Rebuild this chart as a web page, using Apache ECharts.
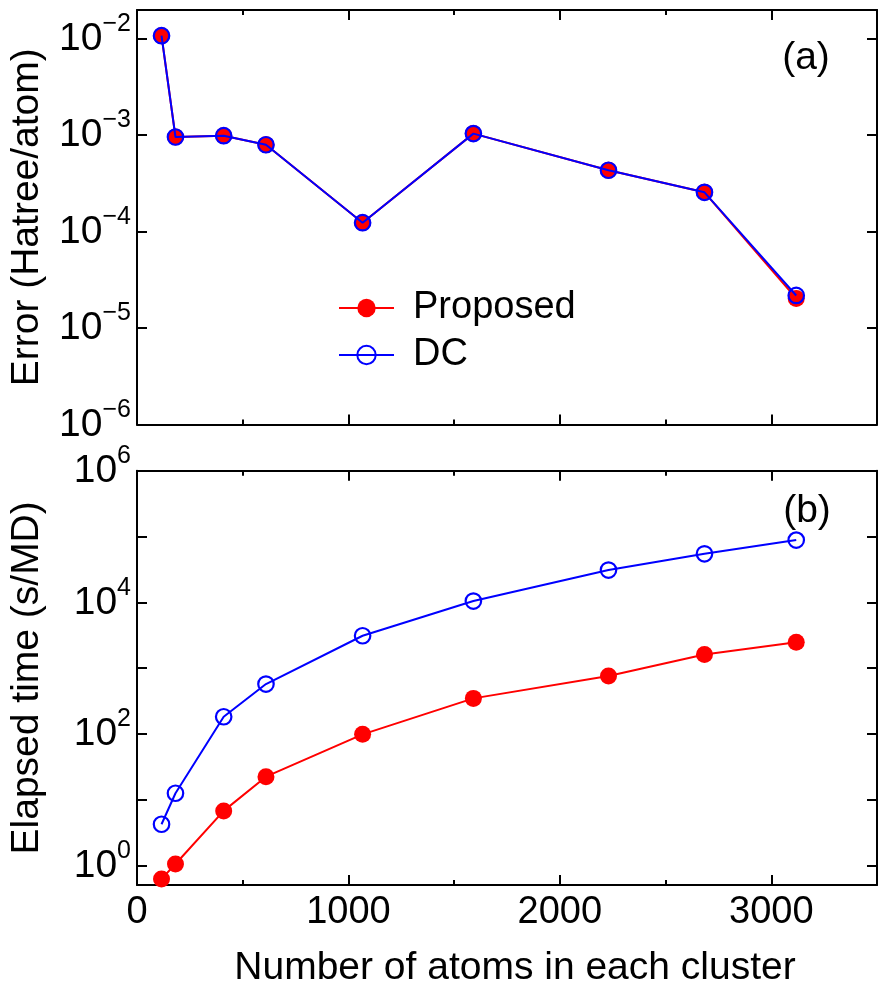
<!DOCTYPE html>
<html><head><meta charset="utf-8">
<script src="https://cdn.jsdelivr.net/npm/echarts@6/dist/echarts.min.js"></script>
<style>html,body{margin:0;padding:0;background:#fff}#c{width:886px;height:1003px}</style>
</head><body><div id="c"></div>
<script>
// ---- data ----
const atoms = [116, 182, 410, 610, 1067, 1591, 2230, 2684, 3118];
const errorProposed = [1.064e-2, 9.5e-4, 9.8e-4, 7.9e-4, 1.23e-4, 1.03e-3, 4.3e-4, 2.54e-4, 2.02e-5];
const errorDC = [1.064e-2, 9.5e-4, 9.8e-4, 7.9e-4, 1.23e-4, 1.03e-3, 4.3e-4, 2.54e-4, 2.17e-5];
const timeProposed = [0.63, 1.06, 6.8, 22.5, 99, 348, 760, 1620, 2470];
const timeDC = [4.26, 12.6, 183, 574, 3110, 10470, 30950, 54700, 88300];
const xTickLabels = [0, 1000, 2000, 3000];
const seriesNames = ['Proposed', 'DC'];
const panelLabels = ['(a)', '(b)'];

const FONT = 'Liberation Sans, Arial, Helvetica, sans-serif';
const RED = '#ff0000', BLUE = '#0000ff', BLACK = '#000';

function pairs(xs, ys) { return xs.map((x, i) => [x, ys[i]]); }

const grids = [
  { left: 136, right: 9, top: 10, height: 414.5 },
  { left: 136, right: 9, top: 470.7, height: 414.3 }
];

function xAxes(g) {
  const base = {
    type: 'value', gridIndex: g, min: 0, max: 3500,
    splitLine: { show: false },
    axisLine: { show: true, onZero: false, lineStyle: { color: BLACK, width: 2 } }
  };
  const major = (pos, labels) => Object.assign({}, base, {
    position: pos, interval: 1000,
    axisTick: { show: true, inside: true, length: 10, lineStyle: { color: BLACK, width: 2 } },
    axisLabel: labels ? {
      show: true, margin: 9, color: BLACK, fontFamily: FONT, fontSize: 38,
      formatter: v => xTickLabels.indexOf(v) >= 0 ? String(v) : ''
    } : { show: false },
    name: labels ? 'Number of atoms in each cluster' : '',
    nameLocation: 'middle', nameGap: 64,
    nameTextStyle: { color: BLACK, fontFamily: FONT, fontSize: 39, padding: [0, 0, 0, 16] }
  });
  const minor = pos => Object.assign({}, base, {
    position: pos, interval: 500,
    axisLine: { show: false },
    axisTick: { show: true, inside: true, length: 5, lineStyle: { color: BLACK, width: 2 } },
    axisLabel: { show: false }
  });
  return [major('bottom', g === 1), minor('bottom'), major('top', false), minor('top')];
}

function decade(v) {
  const l = Math.log10(v);
  const e = Math.round(l);
  if (Math.abs(l - e) > 1e-6) return null;
  return e;
}

function yAxes(g, min, max, name, everyOther) {
  const common = {
    type: 'log', logBase: 10, gridIndex: g, min: min, max: max,
    splitLine: { show: false },
    axisLine: { show: true, onZero: false, lineStyle: { color: BLACK, width: 2 } },
    axisTick: { show: true, inside: true, length: 10, lineStyle: { color: BLACK, width: 2 } }
  };
  const left = Object.assign({}, common, {
    position: 'left',
    axisLabel: {
      show: true, margin: 6, showMinLabel: true, showMaxLabel: true,
      formatter: v => {
        const e = decade(v);
        if (e === null) return '';
        if (everyOther && Math.abs(e) % 2 === 1) return '';
        return '{b|10}{s|' + (e < 0 ? '\u2212' : '') + Math.abs(e) + '}';
      },
      rich: {
        b: { fontSize: 39, fontFamily: FONT, color: BLACK, lineHeight: 40, verticalAlign: 'bottom' },
        s: { fontSize: 25, fontFamily: FONT, color: BLACK, lineHeight: 25, verticalAlign: 'bottom', padding: [0, 0, 22, 0] }
      }
    },
    name: name, nameLocation: 'middle', nameGap: 90, nameRotate: 90,
    nameTextStyle: { color: BLACK, fontFamily: FONT, fontSize: 39 }
  });
  const right = Object.assign({}, common, { position: 'right', axisLabel: { show: false } });
  return [left, right];
}

function seriesFor(xIdx, yIdx, yProp, yDC) {
  return [
    {
      name: seriesNames[0], type: 'line', xAxisIndex: xIdx, yAxisIndex: yIdx,
      data: pairs(atoms, yProp), symbol: 'circle', symbolSize: 17,
      itemStyle: { color: RED },
      lineStyle: { color: RED, width: 2 }, z: 2
    },
    {
      name: seriesNames[1], type: 'line', xAxisIndex: xIdx, yAxisIndex: yIdx,
      data: pairs(atoms, yDC), symbol: 'circle', symbolSize: 15.5,
      itemStyle: { color: 'rgba(255,255,255,0)', borderColor: BLUE, borderWidth: 2.2 },
      lineStyle: { color: BLUE, width: 2 }, z: 3
    }
  ];
}

const option = {
  backgroundColor: '#fff',
  animation: false,
  grid: grids,
  xAxis: xAxes(0).concat(xAxes(1)),
  yAxis: yAxes(0, 1e-6, Math.pow(10, -1.707), 'Error (Hatree/atom)', false)
    .concat(yAxes(1, Math.pow(10, -0.293), 1e6, 'Elapsed time (s/MD)', true)),
  legend: {
    show: true, orient: 'vertical', left: 333, top: 283,
    itemWidth: 55, itemHeight: 23, itemGap: 7, selectedMode: false,
    data: seriesNames,
    lineStyle: { width: 2 },
    textStyle: { color: BLACK, fontFamily: FONT, fontSize: 38, lineHeight: 40, padding: [0, 0, 0, 14] }
  },
  graphic: [
    { type: 'text', x: 806, y: 58, style: { text: panelLabels[0], fontSize: 39, fontFamily: FONT, fill: BLACK, align: 'center', verticalAlign: 'middle' } },
    { type: 'text', x: 807, y: 511, style: { text: panelLabels[1], fontSize: 39, fontFamily: FONT, fill: BLACK, align: 'center', verticalAlign: 'middle' } }
  ],
  series: seriesFor(0, 0, errorProposed, errorDC).concat(seriesFor(4, 2, timeProposed, timeDC))
};

const chart = echarts.init(document.getElementById('c'), null, { renderer: 'canvas' });
chart.setOption(option);
</script>
</body></html>
